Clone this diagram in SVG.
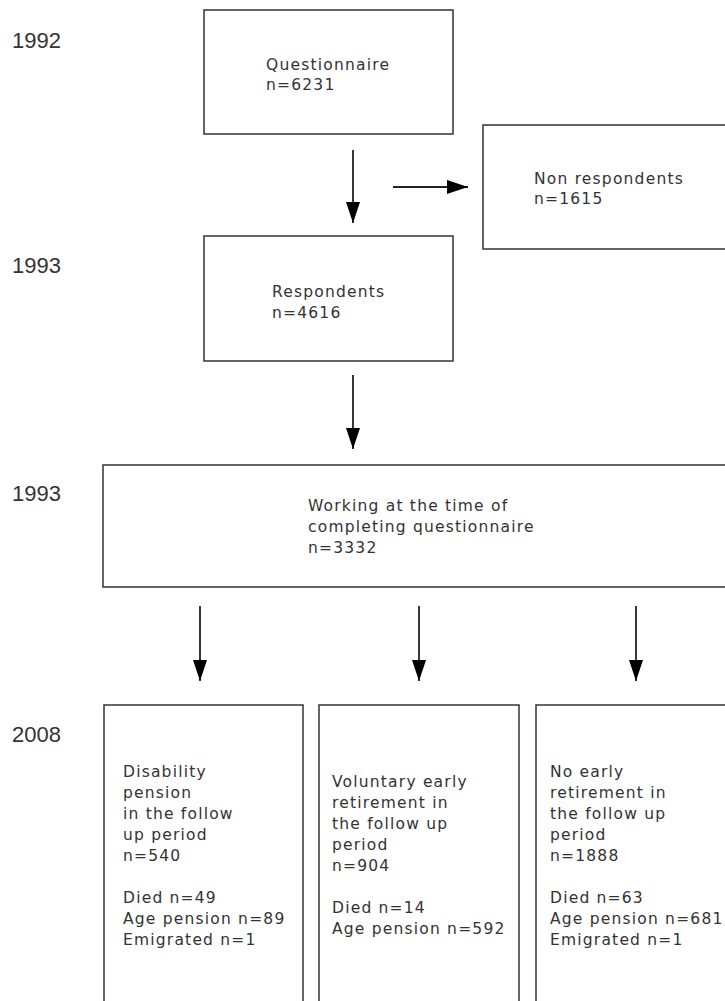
<svg xmlns="http://www.w3.org/2000/svg" width="725" height="1001" viewBox="0 0 725 1001">
<style>
.box{fill:#fff;stroke:#333;stroke-width:1.5}
.t{font-family:"DejaVu Sans",Verdana,sans-serif;font-size:15.5px;letter-spacing:1.2px;fill:#333}
.y{font-family:"Liberation Sans",Arial,sans-serif;font-size:22px;fill:#333}
.c{stroke:#222;stroke-width:1.8;fill:none}
</style>
<defs>
<marker id="ah" viewBox="0 0 21 14" refX="21" refY="7" markerWidth="21" markerHeight="14" markerUnits="userSpaceOnUse" orient="auto">
<path d="M0,0 L21,7 L0,14 Z" fill="#000"/>
</marker>
</defs>
<rect width="725" height="1001" fill="#fff"/>
<g id="years">
<text class="y" x="12" y="48">1992</text>
<text class="y" x="12" y="273">1993</text>
<text class="y" x="12" y="501">1993</text>
<text class="y" x="12" y="742">2008</text>
</g>
<g id="connectors">
<line class="c" x1="353" y1="150" x2="353" y2="223" marker-end="url(#ah)"/>
<line class="c" x1="393" y1="187" x2="468" y2="187" marker-end="url(#ah)"/>
<line class="c" x1="353" y1="375" x2="353" y2="449" marker-end="url(#ah)"/>
<line class="c" x1="200" y1="606" x2="200" y2="681" marker-end="url(#ah)"/>
<line class="c" x1="419" y1="606" x2="419" y2="681" marker-end="url(#ah)"/>
<line class="c" x1="636" y1="606" x2="636" y2="681" marker-end="url(#ah)"/>
</g>
<g id="questionnaire">
<rect class="box" x="204" y="10" width="249" height="124"/>
<text class="t" x="266" y="70">Questionnaire</text>
<text class="t" x="266" y="90">n=6231</text>
</g>
<g id="nonrespondents">
<rect class="box" x="483" y="125" width="250" height="124"/>
<text class="t" x="534" y="184">Non respondents</text>
<text class="t" x="534" y="204">n=1615</text>
</g>
<g id="respondents">
<rect class="box" x="204" y="236" width="249" height="125"/>
<text class="t" x="272" y="297">Respondents</text>
<text class="t" x="272" y="318">n=4616</text>
</g>
<g id="working">
<rect class="box" x="103" y="465" width="630" height="122"/>
<text class="t" x="308" y="511">Working at the time of</text>
<text class="t" x="308" y="532">completing questionnaire</text>
<text class="t" x="308" y="553">n=3332</text>
</g>
<g id="disability">
<rect class="box" x="104" y="705" width="199" height="310"/>
<text class="t" x="123" y="777">Disability</text>
<text class="t" x="123" y="798">pension</text>
<text class="t" x="123" y="819">in the follow</text>
<text class="t" x="123" y="840">up period</text>
<text class="t" x="123" y="861">n=540</text>
<text class="t" x="123" y="903">Died n=49</text>
<text class="t" x="123" y="924">Age pension n=89</text>
<text class="t" x="123" y="945">Emigrated n=1</text>
</g>
<g id="voluntary">
<rect class="box" x="319" y="705" width="200" height="310"/>
<text class="t" x="332" y="787">Voluntary early</text>
<text class="t" x="332" y="808">retirement in</text>
<text class="t" x="332" y="829">the follow up</text>
<text class="t" x="332" y="850">period</text>
<text class="t" x="332" y="871">n=904</text>
<text class="t" x="332" y="913">Died n=14</text>
<text class="t" x="332" y="934">Age pension n=592</text>
</g>
<g id="noearly">
<rect class="box" x="536" y="705" width="200" height="310"/>
<text class="t" x="550" y="777">No early</text>
<text class="t" x="550" y="798">retirement in</text>
<text class="t" x="550" y="819">the follow up</text>
<text class="t" x="550" y="840">period</text>
<text class="t" x="550" y="861">n=1888</text>
<text class="t" x="550" y="903">Died n=63</text>
<text class="t" x="550" y="924">Age pension n=681</text>
<text class="t" x="550" y="945">Emigrated n=1</text>
</g>
</svg>
